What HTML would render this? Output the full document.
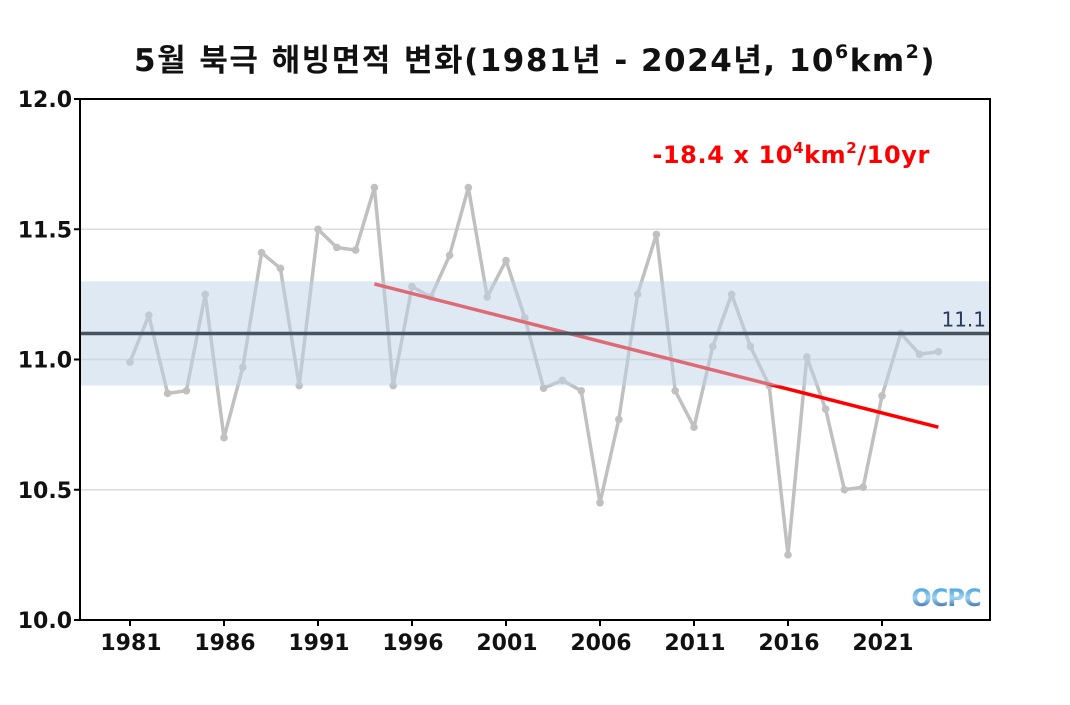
<!DOCTYPE html>
<html><head><meta charset="utf-8"><style>
body{margin:0;background:#fff;}
svg text{font-family:"DejaVu Sans","Noto Sans CJK KR",sans-serif;}
</style></head><body>
<svg id="c" width="1070" height="700" xmlns="http://www.w3.org/2000/svg">
<text x="535" y="71" text-anchor="middle" font-size="31" font-weight="bold" fill="#111" letter-spacing="1.5">5월 북극 해빙면적 변화(1981년 - 2024년, 10<tspan dy="-13" font-size="19">6</tspan><tspan dy="13">km</tspan><tspan dy="-13" font-size="19">2</tspan><tspan dy="13">)</tspan></text>
<g id="plot"></g>
<text x="930" y="163" text-anchor="end" font-size="24" font-weight="bold" fill="#ff0000" letter-spacing="0.6">-18.4 x 10<tspan dy="-10" font-size="15">4</tspan><tspan dy="10">km</tspan><tspan dy="-10" font-size="15">2</tspan><tspan dy="10">/10yr</tspan></text>
<g>
<defs><linearGradient id="lg" x1="0" y1="0" x2="0" y2="1"><stop offset="0" stop-color="#2a8fd8"/><stop offset="0.5" stop-color="#9fd3f0"/><stop offset="1" stop-color="#0a3f8f"/></linearGradient></defs>
<text x="946" y="606" text-anchor="middle" font-size="24" font-weight="bold" fill="url(#lg)" letter-spacing="-1">OCPC</text>
</g>
</svg>
<script>
const years=[1981,1982,1983,1984,1985,1986,1987,1988,1989,1990,1991,1992,1993,1994,1995,1996,1997,1998,1999,2000,2001,2002,2003,2004,2005,2006,2007,2008,2009,2010,2011,2012,2013,2014,2015,2016,2017,2018,2019,2020,2021,2022,2023,2024];
const extent=[10.99,11.17,10.87,10.88,11.25,10.70,10.97,11.41,11.35,10.90,11.50,11.43,11.42,11.66,10.90,11.28,11.24,11.40,11.66,11.24,11.38,11.16,10.89,10.92,10.88,10.45,10.77,11.25,11.48,10.88,10.74,11.05,11.25,11.05,10.90,10.25,11.01,10.81,10.50,10.51,10.86,11.10,11.02,11.03];
const yTicks=[10.0,10.5,11.0,11.5,12.0];
const xTicks=[1981,1986,1991,1996,2001,2006,2011,2016,2021];
const meanValue=[11.1];
const bandRange=[10.9,11.3];
const trendYears=[1994,2024];
const trendValues=[11.29,10.74];

const NS="http://www.w3.org/2000/svg";
const L=80,R=990,T=99,B=620;
const x=v=>130+(v-1981)*(882-130)/40;
const y=v=>B-(v-10)*(B-T)/2;
const g=document.getElementById('plot');
function mk(t,a){const e=document.createElementNS(NS,t);for(const k in a)e.setAttribute(k,a[k]);g.appendChild(e);return e;}
yTicks.forEach(v=>{
 if(v>10&&v<12){const l=mk('line',{x1:L,x2:R,y1:y(v),y2:y(v),stroke:'#dcdcdc','stroke-width':1.5});
 
 }
 const tk=mk('line',{x1:L-6,x2:L,y1:y(v),y2:y(v),stroke:'#000','stroke-width':2});
 
 
 const t=mk('text',{x:L-8,y:y(v)+8,'text-anchor':'end','font-size':22,'font-weight':'bold',fill:'#111'});
 t.textContent=v.toFixed(1);
 
 
});
xTicks.forEach(v=>{
 const tk=mk('line',{x1:x(v),x2:x(v),y1:B,y2:B+6,stroke:'#000','stroke-width':2});
 
 
 const t=mk('text',{x:x(v)+1,y:B+30,'text-anchor':'middle','font-size':22,'font-weight':'bold',fill:'#111'});
 t.textContent=v;
 
 
});
const pts=years.map((yr,i)=>x(yr)+','+y(extent[i])).join(' ');
const pl=mk('polyline',{points:pts,fill:'none',stroke:'#c0c0c0','stroke-width':3.5,'stroke-linejoin':'round'});


years.forEach((yr,i)=>{const c=mk('circle',{cx:x(yr),cy:y(extent[i]),r:3.8,fill:'#c0c0c0'});
 
 });
const tl=mk('line',{x1:x(trendYears[0]),y1:y(trendValues[0]),x2:x(trendYears[1]),y2:y(trendValues[1]),stroke:'#ff0000','stroke-width':3.5});


const bd=mk('rect',{x:L,y:y(bandRange[1]),width:R-L,height:y(bandRange[0])-y(bandRange[1]),fill:'rgb(190,212,232)','fill-opacity':0.5});


const ml=mk('line',{x1:L,x2:R,y1:y(meanValue[0]),y2:y(meanValue[0]),stroke:'#47535e','stroke-width':3.5});


const mt=mk('text',{x:986,y:y(meanValue[0])-7,'text-anchor':'end','font-size':20,fill:'#2a3a5a'});
mt.textContent=meanValue[0].toFixed(1);


const fr=mk('rect',{x:L,y:T,width:R-L,height:B-T,fill:'none',stroke:'#000','stroke-width':2});


</script>
</body></html>
